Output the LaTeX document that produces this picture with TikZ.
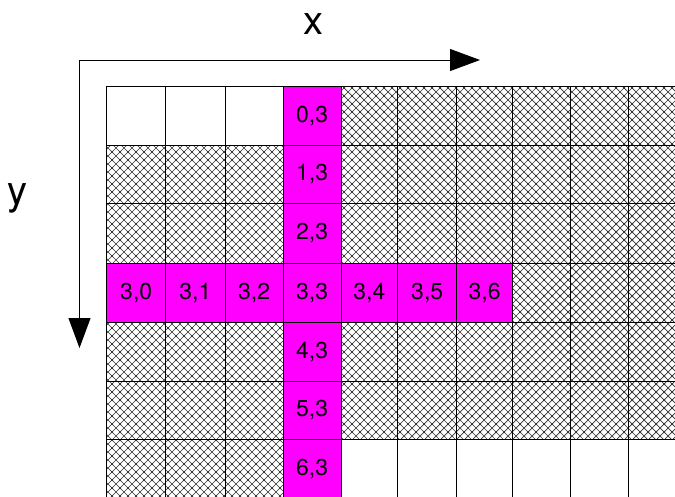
\documentclass[tikz,border=0pt]{standalone}
\usepackage{fontspec}
\setmainfont{TeX Gyre Heros}
\usetikzlibrary{arrows.meta,patterns}
\pgfdeclarepatternformonly{diamondhatch}{\pgfpoint{-1pt}{-1pt}}{\pgfpoint{9pt}{9pt}}{\pgfpoint{8pt}{8pt}}{%
  \pgfsetlinewidth{0.7pt}%
  \pgfpathmoveto{\pgfpoint{-1pt}{-1pt}}\pgfpathlineto{\pgfpoint{9pt}{9pt}}%
  \pgfpathmoveto{\pgfpoint{-1pt}{9pt}}\pgfpathlineto{\pgfpoint{9pt}{-1pt}}%
  \pgfusepath{stroke}}
\definecolor{hotpink}{RGB}{255,0,255}
\tikzset{
  cell/.style={draw=black, line width=0.8pt, inner sep=0pt, outer sep=0pt,
    font=\fontsize{23}{23}\selectfont},
  hot/.style={fill=hotpink},
  plain/.style={fill=white},
  hatch/.style={pattern=diamondhatch, pattern color=black!80},
  axis/.style={line width=1pt, -{Triangle[length=30pt,width=22pt]}},
  axislabel/.style={font=\fontsize{40}{40}\selectfont, inner sep=0pt}
}
\begin{document}
\begin{tikzpicture}[x=1pt,y=-1pt]
\useasboundingbox (0,0) rectangle (675,496);
\clip (0,0) rectangle (675,496);
\foreach \ya/\yb [count=\ri from 0] in {86.7/145,145/203.3,203.3/263.3,263.3/322.3,322.3/381,381/439.5,439.5/498}{
  \foreach \xa/\xb [count=\ci from 0] in {106.7/165.7,165.7/225,225/283.3,283.3/341,341/397.7,397.7/456.7,456.7/512.5,512.5/570.7,570.7/628.7,628.7/687}{
    \def\sty{hatch}\def\txt{}
    \ifnum\ci=3 \def\sty{hot}\def\txt{\ri,\ci}\fi
    \ifnum\ri=3 \ifnum\ci<7 \def\sty{hot}\def\txt{\ri,\ci}\fi\fi
    \ifnum\ri=0 \ifnum\ci<3 \def\sty{plain}\fi\fi
    \ifnum\ri=6 \ifnum\ci>3 \def\sty{plain}\fi\fi
    \node[cell,\sty,minimum width={(\xb-\xa)*1pt},minimum height={(\yb-\ya)*1pt}]
      (cell-\ri-\ci) at ({(\xa+\xb)/2},{(\ya+\yb)/2}) {\txt};
  }
}
\coordinate (origin) at (79.5,60);
\coordinate (xtip) at (480,60);
\coordinate (ytip) at (79.5,348);
\draw[axis] (origin) -- (xtip);
\draw[axis] (origin) -- (ytip);
\node[axislabel] (xlab) at (313,24) {x};
\node[axislabel] (ylab) at (18,198) {y};
\end{tikzpicture}
\end{document}
